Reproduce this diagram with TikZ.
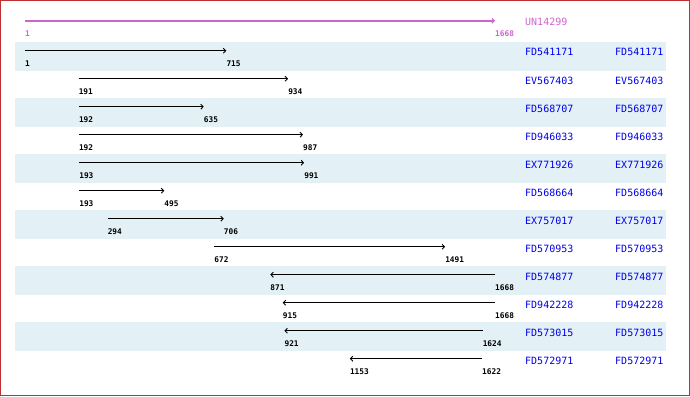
\documentclass[tikz,border=0pt]{standalone}
\usepackage{fontspec}
\setmonofont{DejaVu Sans Mono}
\usepackage{tikz}
\usetikzlibrary{arrows.meta,positioning}
\definecolor{hitblue}{RGB}{0,0,238}
\definecolor{qrypurple}{RGB}{204,102,204}
\definecolor{bandblue}{RGB}{227,240,245}
\definecolor{frmred}{RGB}{192,48,48}
\tikzset{
  hitarr/.style={-{Straight Barb[length=2.4pt,width=5pt]}, black, line width=0.9pt},
  qryarr/.style={-{Straight Barb[length=2.4pt,width=5pt,line width=1pt]}, qrypurple, line width=1.8pt},
  poslab/.style={font=\ttfamily\bfseries\fontsize{7.8}{8}\selectfont, anchor=west, inner sep=0pt},
  namelab/.style={font=\ttfamily\fontsize{10}{10}\selectfont, text=hitblue, anchor=west, inner sep=0pt},
  band/.style={fill=bandblue},
}
\begin{document}
\begin{tikzpicture}[x=1pt,y=-1pt]
\useasboundingbox (0,0) rectangle (690,396);
%---- frame and bands
\draw[frmred, line width=1.4pt] (0.7,0.7) rectangle (689.3,395.3);
\foreach \r in {1,3,...,11}{
  \fill[band] (15,{42+(\r-1)*28}) rectangle (666,{71+(\r-1)*28});}
%---- the query
\coordinate (qs) at (25,20.7);
\coordinate (qe) at (495,20.7);
\draw[qryarr] (qs) -- (qe);
\node[poslab, text=qrypurple] (q1) at (25,33.5) {1};
\node[poslab, text=qrypurple] (q2) at (495,33.5) {1668};
\node[namelab, text=qrypurple] (qn) at (525,22) {UN14299};
%---- the hits
\foreach \nm/\a/\b [count=\r] in {FD541171/1/715, EV567403/191/934,
    FD568707/192/635, FD946033/192/987, EX771926/193/991,
    FD568664/193/495, EX757017/294/706, FD570953/672/1491,
    FD574877/1668/871, FD942228/1668/915, FD573015/1624/921,
    FD572971/1622/1153}{
  \pgfmathsetmacro\yy{50.7+(\r-1)*28}
  \pgfmathsetmacro\xa{25+(\a-1)/1667*470}
  \pgfmathsetmacro\xb{25+(\b-1)/1667*470}
  \coordinate (s\r) at (\xa,\yy);
  \coordinate (e\r) at (\xb,\yy);
  \draw[hitarr] (s\r) -- (e\r);
  \node[poslab] (sl\r) at (\xa,\yy+13) {\a};
  \node[poslab] (el\r) at (\xb,\yy+13) {\b};
  \node[namelab] (n\r) at (525,\yy+1.7) {\nm};
  \node[namelab] (m\r) at (615,\yy+1.7) {\nm};}
\end{tikzpicture}
\end{document}
